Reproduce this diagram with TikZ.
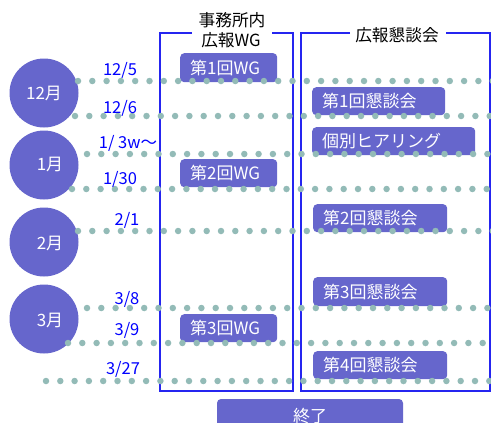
\documentclass[tikz,border=0pt]{standalone}
\usepackage{fontspec}
\setmainfont{Noto Sans CJK JP}
\definecolor{mon}{HTML}{6666CC}
\definecolor{dotc}{HTML}{93BBB7}
\definecolor{framec}{HTML}{2525F0}
\begin{document}
\begin{tikzpicture}[x=1pt,y=-1pt,
  month/.style={circle, fill=mon, minimum size=69pt, inner sep=0pt},
  mtext/.style={text=white, inner sep=0pt, font=\fontsize{17}{17}\selectfont},
  evbox/.style={rectangle, rounded corners=4pt, fill=mon, anchor=north west,
    inner xsep=10pt, inner ysep=0pt, align=left, text=white,
    font=\fontsize{17}{17}\selectfont},
  datelbl/.style={text=blue, inner sep=0pt, font=\fontsize{16.5}{16.5}\selectfont},
  title/.style={text=black, inner sep=0pt, font=\fontsize{16.7}{16.7}\selectfont},
  frameline/.style={draw=framec, line width=1.1pt},
  dotline/.style={draw=dotc, line width=6.5pt, line cap=round, dash pattern=on 0pt off 14.3pt}]
\useasboundingbox (0,0) rectangle (491,423);
\clip (0,0) rectangle (491,423);
% frames
\draw[frameline] (192,33) -- (160,33) -- (160,391) -- (293,391) -- (293,33) -- (272,33);
\draw[frameline] (350,33) -- (301,33) -- (301,391) -- (490,391) -- (490,33) -- (446,33);
\node[title] (t1) at (232,20) {事務所内};
\node[title] (t2) at (231,40) {広報WG};
\node[title] (t3) at (397,35) {広報懇談会};
% month circles
\node[month] (m12) at (44,93) {};
\node[month] (m1) at (44,165) {};
\node[month] (m2) at (44,242) {};
\node[month] (m3) at (44,319) {};
\node[mtext] (m12t) at (44,93) {12月};
\node[mtext] (m1t) at (50,164) {1月};
\node[mtext] (m2t) at (50,243) {2月};
\node[mtext] (m3t) at (50,320) {3月};
% event boxes
\node[evbox, text width=77pt, minimum height=29pt] (wg1) at (180,53) {第1回WG};
\node[evbox, text width=77pt, minimum height=28pt] (wg2) at (180,159) {第2回WG};
\node[evbox, text width=77pt, minimum height=28pt] (wg3) at (180,314) {第3回WG};
\node[evbox, text width=113pt, minimum height=28pt] (k1) at (312,87) {第1回懇談会};
\node[evbox, text width=143pt, minimum height=28pt] (hr) at (312,127) {個別ヒアリング};
\node[evbox, text width=114pt, minimum height=28pt] (k2) at (313,204) {第2回懇談会};
\node[evbox, text width=114pt, minimum height=29pt] (k3) at (313,277) {第3回懇談会};
\node[evbox, text width=114pt, minimum height=28pt] (k4) at (313,351) {第4回懇談会};
\fill[mon, rounded corners=4pt] (217,399) rectangle (403,440);
\node[mtext] (end) at (310,416) {終了};
% dotted lines
\coordinate (d1a) at (78,81);  \coordinate (d1b) at (495,81);
\coordinate (d2a) at (75,116); \coordinate (d2b) at (495,116);
\coordinate (d3a) at (87,154); \coordinate (d3b) at (495,154);
\coordinate (d4a) at (72,189); \coordinate (d4b) at (495,189);
\coordinate (d5a) at (78,231); \coordinate (d5b) at (495,231);
\coordinate (d6a) at (87,308); \coordinate (d6b) at (495,308);
\coordinate (d7a) at (68,343); \coordinate (d7b) at (495,343);
\coordinate (d8a) at (46,381); \coordinate (d8b) at (495,381);
\foreach \i in {1,...,8} {\draw[dotline] (d\i a) -- (d\i b);}
% date labels
\node[datelbl] (l1) at (120,70) {12/5};
\node[datelbl] (l2) at (120,108) {12/6};
\node[datelbl] (l3) at (128,143) {1/ 3w〜};
\node[datelbl] (l4) at (120,179) {1/30};
\node[datelbl] (l5) at (127,220) {2/1};
\node[datelbl] (l6) at (127,299) {3/8};
\node[datelbl] (l7) at (127,330) {3/9};
\node[datelbl] (l8) at (123,369) {3/27};
\end{tikzpicture}
\end{document}
